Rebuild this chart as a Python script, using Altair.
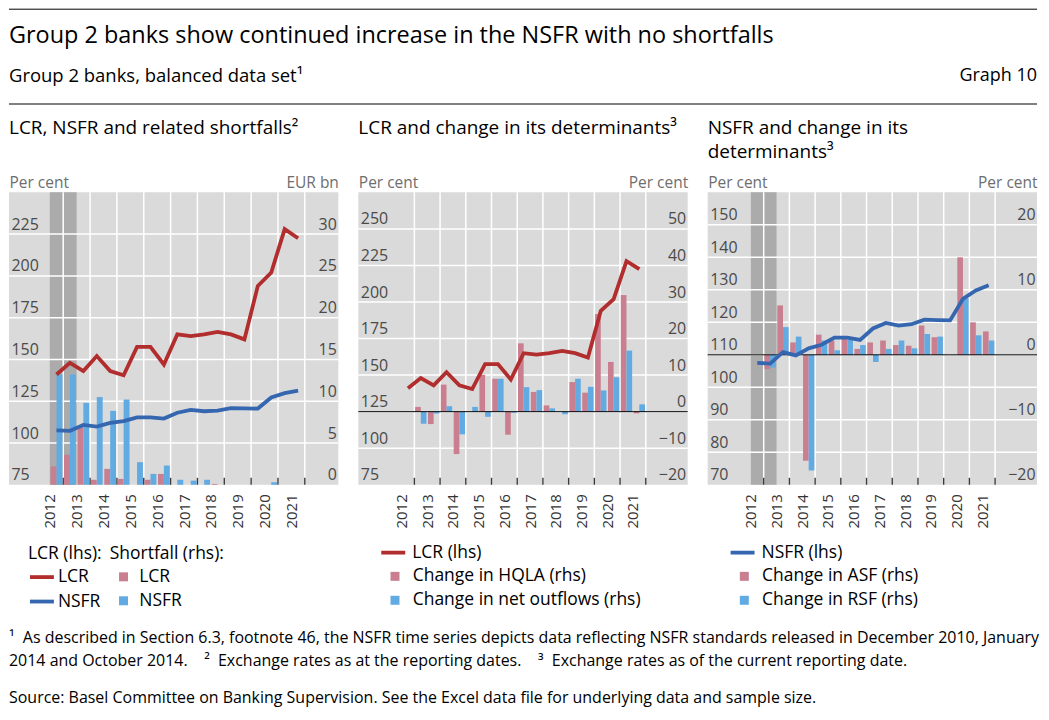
import altair as alt
import pandas as pd

FONT = "Open Sans"

# ---------------- data ----------------
PERIODS = ["2012H2", "2013H1", "2013H2", "2014H1", "2014H2", "2015H1", "2015H2",
           "2016H1", "2016H2", "2017H1", "2017H2", "2018H1", "2018H2", "2019H1",
           "2019H2", "2020H1", "2020H2", "2021H1", "2021H2"]
YEARS = [2012, 2013, 2014, 2015, 2016, 2017, 2018, 2019, 2020, 2021]

LCR = [141, 148, 143, 152, 143, 140.5, 157.5, 157.5, 147, 165, 164, 165, 166.5,
       165, 162, 194, 202, 228, 222.5]
NSFR = [107.5, 107.3, 110.8, 109.8, 112, 113.1, 115.3, 115.3, 114.6, 118.1, 119.8,
        119, 119.4, 120.8, 120.7, 120.6, 127.2, 129.8, 131.4]
SHORTFALL_LCR = [2.2, 3.6, 6.9, 0.6, 1.9, 0.7, 0, 0.6, 1.3, 0, 0, 0, 0.1, 0, 0, 0, 0, 0, 0]
SHORTFALL_NSFR = [13.2, 13.2, 9.8, 10.5, 8.85, 10.2, 2.7, 1.3, 2.3, 0.6, 0.5, 0.6, 0, 0, 0,
                  0, 0.3, 0, 0]
CHANGE_HQLA = [None, 1.3, -3.4, 7.4, -11.6, 0, 10.1, 9.0, -6.3, 18.7, 5.4, 1.7, 0, 8.1,
               5.2, 26.7, 13.6, 31.9, -0.45]
CHANGE_NET_OUTFLOWS = [None, -3.3, -0.5, 1.5, -6.2, 1.3, -1.4, 9.0, -0.3, 6.7, 5.9, 0.9,
                       -0.7, 9.0, 6.8, 5.8, 9.4, 16.7, 2.0]
CHANGE_ASF = [None, -2.2, 7.6, 1.9, -16.3, 3.1, 2.2, 2.6, 0.9, 1.9, 2.2, 1.5, 1.4, 4.5,
              2.7, None, 15.0, 5.0, 3.6]
CHANGE_RSF = [None, -1.95, 4.26, 2.8, -17.8, 2.2, 0.7, 2.3, 1.5, -1.1, 0.9, 2.2, 1.0, 3.2,
              2.8, None, 8.7, 3.0, 2.2]
SHADED_PERIODS = ["2012H2", "2013H1"]

P1_LEFT_TICKS = [75, 100, 125, 150, 175, 200, 225]
P1_RIGHT_TICKS = [0, 5, 10, 15, 20, 25, 30]
P2_LEFT_TICKS = [75, 100, 125, 150, 175, 200, 225, 250]
P2_RIGHT_TICKS = [-20, -10, 0, 10, 20, 30, 40, 50]
P3_LEFT_TICKS = [70, 80, 90, 100, 110, 120, 130, 140, 150]
P3_RIGHT_TICKS = [-20, -15, -10, -5, 0, 5, 10, 15, 20]

# ---------------- text ----------------
TITLE = "Group 2 banks show continued increase in the NSFR with no shortfalls"
SUBTITLE = "Group 2 banks, balanced data set\u00b9"
GRAPH_NO = "Graph 10"
PANEL1_TITLE = "LCR, NSFR and related shortfalls\u00b2"
PANEL2_TITLE = "LCR and change in its determinants\u00b3"
PANEL3_TITLE = ["NSFR and change in its", "determinants\u00b3"]
FOOTNOTE_1 = ("\u00b9\u00a0 As described in Section 6.3, footnote 46, the NSFR time series depicts "
              "data reflecting NSFR standards released in December 2010, January")
FOOTNOTE_2 = ("2014 and October 2014.\u00a0\u00a0\u00a0 \u00b2\u00a0 Exchange rates as at the reporting "
              "dates.\u00a0\u00a0\u00a0 \u00b3\u00a0 Exchange rates as of the current reporting date.")
SOURCE = ("Source: Basel Committee on Banking Supervision. See the Excel data file for "
          "underlying data and sample size.")

# ---------------- style / layout ----------------
W, H = 330, 293
GAP = 18
STEP = W + GAP + 2
TOTAL_W = 3 * W + 2 * GAP + 4
HEADER_H = 167
FOOTER_H = 111
RED = "#b22d2d"
BLUE = "#3566b0"
PINK = "#c97f8f"
LIGHTBLUE = "#62aae2"
BG = "#dadada"
SHADE = "#ababab"
AX_LABEL = "#4a4a4a"
AX_TITLE = "#6e6e6e"
LEG_FS = 17.5
BW = 0.22

ONE = pd.DataFrame({"k": [0]})


def period_t(p):
    return int(p[:4]) + (0.25 if p.endswith("H1") else 0.75)


T = [period_t(p) for p in PERIODS]


def long_df(field, names, arrays):
    rows = []
    for k, (nm, arr) in enumerate(zip(names, arrays)):
        for t, v in zip(T, arr):
            if v is not None:
                rows.append({"t": t, field: nm, "value": v, "k": k})
    return pd.DataFrame(rows)


def y_axis(orient, ticks, title):
    left = orient == "left"
    return alt.Axis(
        orient=orient, values=ticks, ticks=False, tickSize=0, domain=False, grid=False,
        labelAlign="left" if left else "right", labelBaseline="alphabetic",
        labelPadding=-2, labelOffset=-5, labelFontSize=16, labelColor=AX_LABEL,
        labelFont=FONT, labelOverlap=False, labelFlush=False, zindex=1,
        title=title, titleAngle=0, titleAlign="left" if left else "right",
        titleBaseline="alphabetic", titleX=0, titleY=-5, titleFontSize=15.5,
        titleColor=AX_TITLE, titleFont=FONT, titleFontWeight="normal")


def x_axis():
    return alt.Axis(values=[y + 0.5 for y in YEARS], labelExpr="floor(datum.value)",
                    labelAngle=270, labelAlign="right", labelBaseline="middle",
                    labelPadding=9, labelFontSize=15, labelColor="#333333", labelFont=FONT,
                    ticks=False, domain=False, grid=False, title=None,
                    labelOverlap=False, labelFlush=False)


def line_legend(title, x, y, lo):
    kw = dict(orient="none", legendX=x, legendY=y, direction="vertical", padding=0,
              symbolType="stroke", symbolSize=576, symbolStrokeWidth=3.8, rowPadding=1.5,
              labelOffset=lo, labelFont=FONT, labelFontSize=LEG_FS, labelColor="#000000",
              labelLimit=400)
    if title:
        kw.update(title=title, titleFont=FONT, titleFontSize=LEG_FS, titleFontWeight="normal",
                  titleColor="#000000", titlePadding=1, titleLimit=300)
    return alt.Legend(**kw)


def square_legend(title, x, y, sym_off, lo, label_expr=None):
    kw = dict(orient="none", legendX=x, legendY=y, direction="vertical", padding=0,
              symbolType="square", symbolSize=81, symbolStrokeWidth=0, symbolOffset=sym_off,
              rowPadding=5, labelOffset=lo, labelFont=FONT, labelFontSize=LEG_FS,
              labelColor="#000000", labelLimit=400)
    if title:
        kw.update(title=title, titleFont=FONT, titleFontSize=LEG_FS, titleFontWeight="normal",
                  titleColor="#000000", titlePadding=6, titleLimit=300)
    if label_expr:
        kw["labelExpr"] = label_expr
    return alt.Legend(**kw)


def panel(xdom, ldom, lticks, rdom, rticks, rtitle, lines_df, line_dom, line_rng, l_leg,
          l_title, bars_df, bar_dom, bar_rng, b_leg, b_title, shaded, zero_line):
    xs = alt.Scale(domain=xdom, nice=False, zero=False)
    xa = x_axis()
    ls = alt.Scale(domain=ldom, nice=False, zero=False)
    rs = alt.Scale(domain=rdom, nice=False, zero=False)

    bg = alt.Chart(ONE).mark_rect(color=BG).encode(
        x=alt.value(0), x2=alt.value(W), y=alt.value(0), y2=alt.value(H))
    base_layers = [bg]
    if shaded:
        sdf = pd.DataFrame({"s0": [period_t(SHADED_PERIODS[0]) - 0.25],
                            "s1": [period_t(SHADED_PERIODS[-1]) + 0.25]})
        base_layers.append(alt.Chart(sdf).mark_rect(color=SHADE).encode(
            x=alt.X("s0:Q", scale=xs, axis=xa), x2="s1:Q",
            y=alt.value(0), y2=alt.value(H)))
    gdf = pd.DataFrame({"g": lticks})
    base_layers.append(alt.Chart(gdf).transform_filter(f"datum.g > {ldom[0]}").mark_rule(
        color="white", strokeWidth=1.5).encode(
        y=alt.Y("g:Q", scale=ls, axis=y_axis("left", lticks, "Per cent")),
        x=alt.value(0), x2=alt.value(W)))
    bdf = pd.DataFrame({"b": [y + 1 for y in YEARS]})
    base_layers.append(alt.Chart(bdf).mark_rule(color="white", strokeWidth=1.5).encode(
        x=alt.X("b:Q", scale=xs, axis=xa), y=alt.value(0), y2=alt.value(H)))
    base_layers.append(alt.Chart(bdf).mark_rule(color="#3a3a3a", strokeWidth=1.4).encode(
        x=alt.X("b:Q", scale=xs, axis=xa), y=alt.value(H - 7), y2=alt.value(H)))
    base = alt.layer(*base_layers)

    bars = alt.Chart(bars_df).transform_calculate(
        x0=f"datum.t - {BW} + datum.k * {BW}",
        x1=f"datum.t + datum.k * {BW}").mark_rect().encode(
        x=alt.X("x0:Q", scale=xs, axis=xa), x2="x1:Q",
        y=alt.Y("value:Q", scale=rs, axis=y_axis("right", rticks, rtitle), stack=None),
        y2=alt.datum(0),
        fill=alt.Fill("bar_series:N", scale=alt.Scale(domain=bar_dom, range=bar_rng),
                      legend=b_leg, title=b_title))
    right_layers = [bars]
    if zero_line:
        right_layers.append(alt.Chart(ONE).mark_rule(color="#000000", strokeWidth=1).encode(
            y=alt.datum(0), x=alt.value(0), x2=alt.value(W)))
    right = alt.layer(*right_layers)

    lines = alt.Chart(lines_df).mark_line(strokeWidth=3.8).encode(
        x=alt.X("t:Q", scale=xs, axis=xa),
        y=alt.Y("value:Q", scale=ls, axis=None),
        stroke=alt.Stroke("line_series:N", scale=alt.Scale(domain=line_dom, range=line_rng),
                          legend=l_leg, title=l_title))

    return alt.layer(base, right, lines).resolve_scale(y="independent").properties(
        width=W, height=H)


P1_BAR_NAMES = ["LCR shortfall", "NSFR shortfall"]

p1 = panel(
    [2010.98, 2023.25], [75, 250], P1_LEFT_TICKS, [0, 35], P1_RIGHT_TICKS, "EUR bn",
    long_df("line_series", ["LCR", "NSFR"], [LCR, NSFR]), ["LCR", "NSFR"], [RED, BLUE],
    line_legend("LCR (lhs):", 19, 353, 2), "LCR (lhs):",
    long_df("bar_series", P1_BAR_NAMES, [SHORTFALL_LCR, SHORTFALL_NSFR]),
    P1_BAR_NAMES, [PINK, LIGHTBLUE],
    square_legend("Shortfall (rhs):", 101, 353, 5, 7,
                  "replace(datum.label, ' shortfall', '')"), "Shortfall (rhs):",
    True, False)

p2 = panel(
    [2010.82, 2023.63], [75, 275], P2_LEFT_TICKS, [-20, 60], P2_RIGHT_TICKS, "Per cent",
    long_df("line_series", ["LCR (lhs)"], [LCR]), ["LCR (lhs)"], [RED],
    line_legend(None, 21, 347, 5), None,
    long_df("bar_series", ["Change in HQLA (rhs)", "Change in net outflows (rhs)"],
            [CHANGE_HQLA, CHANGE_NET_OUTFLOWS]),
    ["Change in HQLA (rhs)", "Change in net outflows (rhs)"], [PINK, LIGHTBLUE],
    square_legend(None, 20, 376, 8, 9), None,
    False, True)

p3 = panel(
    [2010.82, 2023.63], [70, 160], P3_LEFT_TICKS, [-20, 25], P3_RIGHT_TICKS, "Per cent",
    long_df("line_series", ["NSFR (lhs)"], [NSFR]), ["NSFR (lhs)"], [BLUE],
    line_legend(None, 21, 347, 5), None,
    long_df("bar_series", ["Change in ASF (rhs)", "Change in RSF (rhs)"],
            [CHANGE_ASF, CHANGE_RSF]),
    ["Change in ASF (rhs)", "Change in RSF (rhs)"], [PINK, LIGHTBLUE],
    square_legend(None, 20, 376, 8, 9), None,
    True, True)

panels = alt.hconcat(p1, p2, p3, spacing=GAP).resolve_scale(
    x="independent", y="independent", stroke="independent", fill="independent")


def txt(s, x, y, size, color="#000000", align="left", baseline="middle"):
    return alt.Chart(pd.DataFrame({"s": [s]})).mark_text(
        align=align, baseline=baseline, fontSize=size, font=FONT, color=color).encode(
        x=alt.value(x), y=alt.value(y), text="s:N")


def hrule(y):
    return alt.Chart(ONE).mark_rule(color="#000000", strokeWidth=1).encode(
        x=alt.value(0), x2=alt.value(TOTAL_W), y=alt.value(y))


header = alt.layer(
    hrule(0.5),
    txt(TITLE, 0, 27, 23.5),
    txt(SUBTITLE, 0, 67, 18.5),
    txt(GRAPH_NO, TOTAL_W, 67, 18, align="right"),
    hrule(95.5),
    txt(PANEL1_TITLE, 0, 120, 19),
    txt(PANEL2_TITLE, STEP, 120, 19),
    txt(PANEL3_TITLE[0], 2 * STEP, 120, 19),
    txt(PANEL3_TITLE[1], 2 * STEP, 144, 19),
).properties(width=TOTAL_W, height=HEADER_H)

footer = alt.layer(
    txt(FOOTNOTE_1, 0, 28, 16),
    txt(FOOTNOTE_2, 0, 51, 16),
    txt(SOURCE, 0, 88, 16),
    hrule(110.5),
).properties(width=TOTAL_W, height=FOOTER_H)

chart = alt.vconcat(header, panels, footer, spacing=0).properties(
    padding={"left": 0, "top": 0, "right": 0, "bottom": 0}
).configure(font=FONT).configure_view(stroke=None)

chart.save("out.html", embed_options={"renderer": "svg", "actions": False})
